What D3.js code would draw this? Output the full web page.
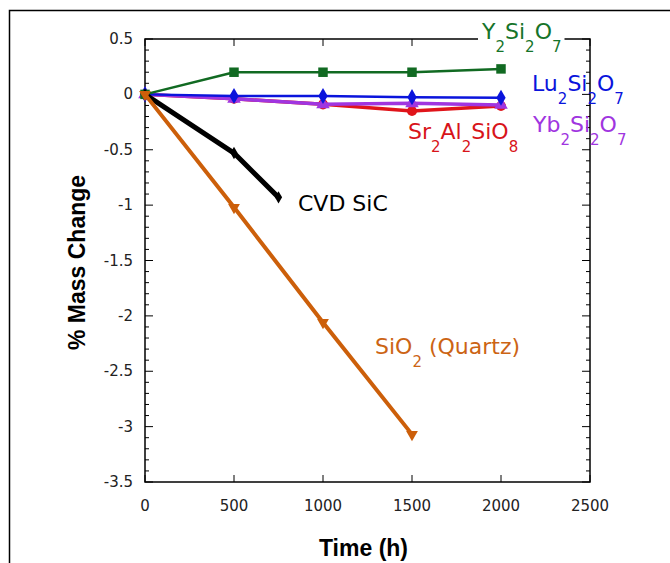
<!doctype html>
<html>
<head>
<script src="https://d3js.org/d3.v7.min.js"></script>
<style>
  body { margin: 0; background: #fff; }
  text { font-family: 'DejaVu Sans', sans-serif; }
  .tick-label { font-size: 15px; fill: #222; }
  .title { font-family: 'Liberation Sans', Arial, sans-serif; font-weight: bold; font-size: 23px; fill: #000; }
  .series-label { font-size: 22px; }
</style>
</head>
<body>
<svg id="chart" width="670" height="563"></svg>
<script>
// data
var times = [0, 500, 1000, 1500, 2000];
var y2si2o7 = [0, 0.2, 0.2, 0.2, 0.23];
var lu2si2o7 = [0, -0.015, -0.015, -0.025, -0.03];
var yb2si2o7 = [0, -0.04, -0.09, -0.08, -0.095];
var sr2al2sio8 = [0, -0.04, -0.09, -0.15, -0.105];
var sicTimes = [0, 500, 750];
var sic = [0, -0.53, -0.93];
var sio2Times = [0, 500, 1000, 1500];
var sio2 = [0, -1.02, -2.06, -3.07];

var xTicks = [0, 500, 1000, 1500, 2000, 2500];
var yTicks = [0.5, 0, -0.5, -1, -1.5, -2, -2.5, -3, -3.5];

var margin = {left: 145, right: 80, top: 39, bottom: 81};
var W = 670, H = 563;

var svg = d3.select("#chart");

// outer frame (runs off the picture to the right and bottom)
svg.append("path")
  .attr("d", "M9.5," + (H + 5) + "V10.5H" + (W + 5))
  .attr("fill", "none").attr("stroke", "#000").attr("stroke-width", 1.5);

var x = d3.scaleLinear().domain([0, 2500]).range([margin.left, W - margin.right]);
var y = d3.scaleLinear().domain([-3.5, 0.5]).range([H - margin.bottom, margin.top]);

var x0 = x(0), x1 = x(2500), y0 = y(-3.5), y1 = y(0.5);

// plot box
svg.append("rect")
  .attr("x", x0).attr("y", y1).attr("width", x1 - x0).attr("height", y0 - y1)
  .attr("fill", "none").attr("stroke", "#000").attr("stroke-width", 1.5);

var ticks = svg.append("g").attr("stroke", "#000").attr("stroke-width", 1);

// y ticks: major every 0.5, minor every 0.1, both sides pointing inward
var minorY = d3.range(-35, 6).map(d => d / 10);
minorY.forEach(function(v) {
  var major = Math.abs(v * 2 - Math.round(v * 2)) < 1e-6;
  var len = major ? 8 : 4;
  ticks.append("line").attr("x1", x0).attr("x2", x0 + len).attr("y1", y(v)).attr("y2", y(v));
  ticks.append("line").attr("x1", x1).attr("x2", x1 - len).attr("y1", y(v)).attr("y2", y(v));
});
xTicks.forEach(function(v) {
  ticks.append("line").attr("x1", x(v)).attr("x2", x(v)).attr("y1", y0).attr("y2", y0 - 7);
  ticks.append("line").attr("x1", x(v)).attr("x2", x(v)).attr("y1", y1).attr("y2", y1 + 7);
});

// tick labels
svg.append("g").selectAll("text").data(yTicks).join("text")
  .attr("class", "tick-label")
  .attr("x", x0 - 12).attr("y", d => y(d) + 5)
  .attr("text-anchor", "end")
  .text(d => d);
svg.append("g").selectAll("text").data(xTicks).join("text")
  .attr("class", "tick-label")
  .attr("x", d => x(d)).attr("y", y0 + 29)
  .attr("text-anchor", "middle")
  .text(d => d);

// axis titles
svg.append("text").attr("class", "title")
  .attr("transform", "translate(85," + ((y0 + y1) / 2 + 2) + ") rotate(-90)")
  .attr("text-anchor", "middle")
  .text("% Mass Change");
svg.append("text").attr("class", "title")
  .attr("x", (x0 + x1) / 2 - 4).attr("y", 556)
  .attr("text-anchor", "middle")
  .text("Time (h)");

var line = d3.line().x(d => x(d[0])).y(d => y(d[1]));

function drawSeries(ts, vals, color, width, symbol, size, rot) {
  var pts = ts.map((t, i) => [t, vals[i]]);
  var g = svg.append("g");
  g.append("path").datum(pts)
    .attr("d", line)
    .attr("fill", "none").attr("stroke", color).attr("stroke-width", width)
    .attr("stroke-linejoin", "round");
  g.selectAll("path.pt").data(pts).join("path")
    .attr("class", "pt")
    .attr("d", d3.symbol().type(symbol).size(size))
    .attr("transform", d => "translate(" + x(d[0]) + "," + y(d[1]) + ") rotate(" + (rot || 0) + ")")
    .attr("fill", color);
}

drawSeries(times, sr2al2sio8, "#e0141a", 3.5, d3.symbolCircle, 80);
drawSeries(times, yb2si2o7, "#a035e0", 3.5, d3.symbolTriangle, 80);
drawSeries(times, lu2si2o7, "#0a14dc", 2.5, d3.symbolDiamond, 75);
drawSeries(times, y2si2o7, "#116a22", 2.5, d3.symbolSquare, 90);
drawSeries(sicTimes, sic, "#000", 5, d3.symbolDiamond, 45);
drawSeries(sio2Times, sio2, "#cc5f0a", 4, d3.symbolTriangle, 60, 180);

// series labels with subscripts
function label(xp, yp, color, parts, bg) {
  var t = svg.append("text").attr("class", "series-label")
    .attr("x", xp).attr("y", yp).attr("fill", color);
  parts.forEach(function(p) {
    if (p[1]) {
      t.append("tspan").attr("font-size", "15px").attr("dy", 13).text(p[0]);
    } else {
      t.append("tspan").attr("dy", p[2] ? -13 : 0).text(p[0]);
    }
  });
  if (bg) {
    var b = t.node().getBBox();
    svg.insert("rect", "text.series-label")
      .attr("x", b.x - 3).attr("y", b.y).attr("width", b.width + 6).attr("height", b.height)
      .attr("fill", "#fff");
  }
  return t;
}

// [text, isSub, backFromSub]
label(482, 39, "#16742a", [["Y"], ["2", 1], ["Si", 0, 1], ["2", 1], ["O", 0, 1], ["7", 1]], true);
label(532, 91, "#0a14dc", [["Lu"], ["2", 1], ["Si", 0, 1], ["2", 1], ["O", 0, 1], ["7", 1]]);
label(533, 132, "#a035e0", [["Yb"], ["2", 1], ["Si", 0, 1], ["2", 1], ["O", 0, 1], ["7", 1]]);
label(408, 139, "#d8141a", [["Sr"], ["2", 1], ["Al", 0, 1], ["2", 1], ["SiO", 0, 1], ["8", 1]]);
label(298, 211, "#000", [["CVD SiC"]]);
label(375, 354, "#cc6414", [["SiO"], ["2", 1], [" (Quartz)", 0, 1]]);
</script>
</body>
</html>
